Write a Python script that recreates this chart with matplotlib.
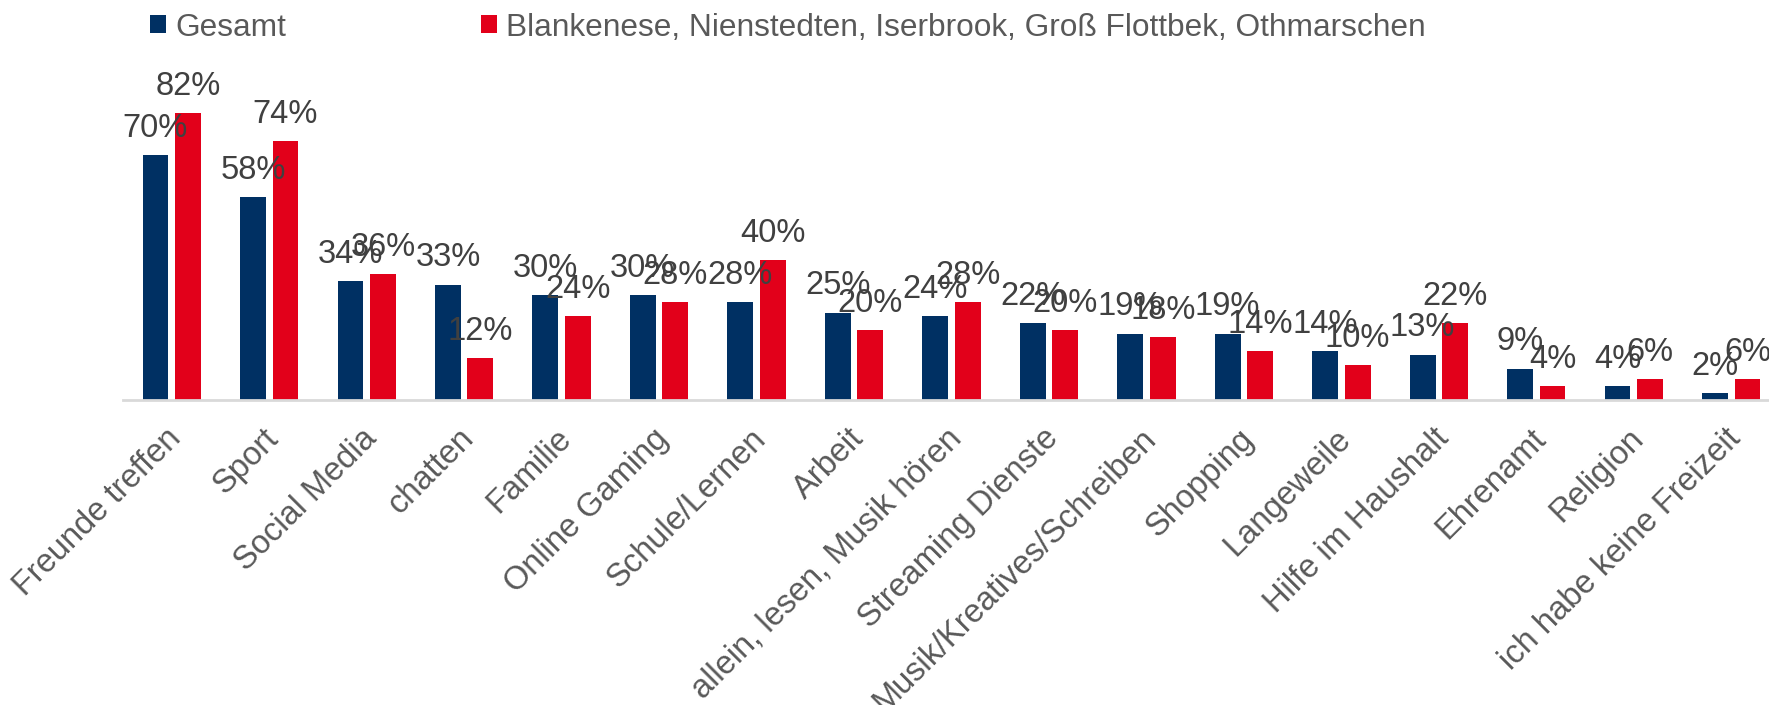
import matplotlib
matplotlib.use("Agg")
import matplotlib.pyplot as plt
import numpy as np
from matplotlib.transforms import ScaledTranslation

categories = ["Freunde treffen", "Sport", "Social Media", "chatten", "Familie",
              "Online Gaming", "Schule/Lernen", "Arbeit", "allein, lesen, Musik hören",
              "Streaming Dienste", "Musik/Kreatives/Schreiben", "Shopping", "Langeweile",
              "Hilfe im Haushalt", "Ehrenamt", "Religion", "ich habe keine Freizeit"]
gesamt = [70, 58, 34, 33, 30, 30, 28, 25, 24, 22, 19, 19, 14, 13, 9, 4, 2]
region = [82, 74, 36, 12, 24, 28, 40, 20, 28, 20, 18, 14, 10, 22, 4, 6, 6]
series_names = ["Gesamt", "Blankenese, Nienstedten, Iserbrook, Groß Flottbek, Othmarschen"]

NAVY = "#003063"
RED = "#E2001A"
LABEL_C = "#404040"
TICK_C = "#595959"

plt.rcParams['font.family'] = ['Liberation Sans', 'DejaVu Sans']

W, H = 1769, 705
fig = plt.figure(figsize=(W / 100, H / 100), dpi=100)
left = 123 / W
bottom = 305 / H
ax = fig.add_axes([left, bottom, 1657 / W, 350 / H])

x = np.arange(len(categories))
bw = 0.265
off = 0.1667
b1 = ax.bar(x - off, gesamt, bw, color=NAVY, label=series_names[0])
b2 = ax.bar(x + off, region, bw, color=RED, label=series_names[1])

for xs, vals in ((x - off, gesamt), (x + off, region)):
    for xi, v in zip(xs, vals):
        ax.annotate(f"{v}%", (xi, v), xytext=(0, 13), textcoords="offset points",
                    ha="center", va="baseline", fontsize=23.5, color=LABEL_C,
                    annotation_clip=False)

ax.set_xlim(-0.5, 16.5)
ax.set_ylim(0, 100)
for s in ("top", "right", "left"):
    ax.spines[s].set_visible(False)
ax.spines["bottom"].set_color("#D9D9D9")
ax.spines["bottom"].set_linewidth(2)
ax.set_yticks([])
ax.set_xticks(x)
ax.set_xticklabels(categories, rotation=45, ha="right", va="top",
                   rotation_mode="anchor", fontsize=23.5, color=TICK_C)
ax.tick_params(axis="x", length=0, pad=16.5)
shift = ScaledTranslation(-0.06, 0, fig.dpi_scale_trans)
for lab in ax.get_xticklabels():
    lab.set_transform(lab.get_transform() + shift)

fs = 22.8
fpx = fs / 72 * 100
fig.legend([b1, b2], series_names, loc="center left",
           bbox_to_anchor=(150 / W, 1 - 27.5 / H), ncol=2, frameon=False,
           borderpad=0, borderaxespad=0, fontsize=fs,
           handlelength=16 / fpx, handleheight=16 / fpx,
           handletextpad=9 / fpx, columnspacing=195 / fpx, labelcolor=TICK_C)

fig.savefig("out.png", dpi=100)
